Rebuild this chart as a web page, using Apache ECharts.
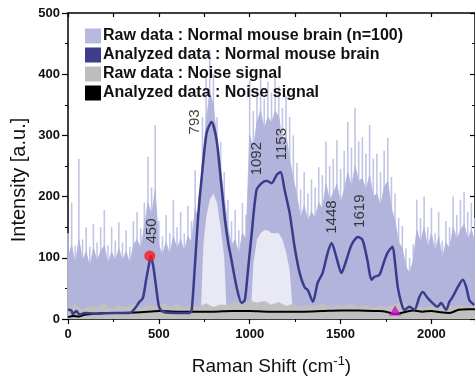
<!DOCTYPE html>
<html><head><meta charset="utf-8">
<script src="https://cdn.jsdelivr.net/npm/echarts@6/dist/echarts.min.js"></script>
<style>html,body{margin:0;padding:0;background:#fff}#c{width:475px;height:385px}</style>
</head><body><div id="c"></div>
<script>
// ---- data ----
const rawShift = [0,20,40,60,80,100,120,140,160,180,200,220,240,260,280,300,320,340,360,380,400,420,440,460,480,500,520,540,560,580,600,620,640,660,680,700,720,740,760,780,800,820,840,860,880,900,920,940,960,980,1000,1020,1040,1060,1080,1100,1120,1140,1160,1180,1200,1220,1240,1260,1280,1300,1320,1340,1360,1380,1400,1420,1440,1460,1480,1500,1520,1540,1560,1580,1600,1620,1640,1660,1680,1700,1720,1740,1760,1780,1800,1820,1840,1860,1880,1900,1920,1940,1960,1980,2000,2020,2040,2060,2080,2100,2120,2140,2160,2180,2200,2220,2240];
const rawPeakTop = [140,190,120,262,130,150,118,155,125,150,178,120,150,128,158,125,145,118,160,175,148,190,265,215,317,160,135,170,140,194,150,175,140,185,160,243,200,330,395,440,400,330,290,240,195,160,178,145,190,170,390,340,372,395,360,388,370,398,380,345,365,330,300,255,212,240,205,228,215,248,235,290,250,262,292,245,275,322,280,345,290,297,270,317,262,270,240,275,296,232,205,165,152,115,100,122,195,165,200,150,182,140,175,128,160,150,200,170,195,208,175,190,165];
const rawDense = [100,120,90,130,95,110,85,115,95,110,120,90,110,95,115,95,110,90,120,130,115,150,190,170,210,120,105,125,105,135,115,130,110,135,125,180,160,260,320,370,350,290,240,200,150,120,130,105,140,130,300,280,320,340,310,330,320,340,330,290,300,260,230,200,165,185,160,175,165,190,180,220,195,205,220,190,210,240,215,250,225,230,210,235,200,205,185,215,225,180,160,125,115,85,75,95,145,125,150,115,140,110,135,100,125,115,150,130,145,155,130,145,125];
const rawGapShift = [700,730,745,760,780,800,820,840,860,875,1005,1020,1040,1060,1080,1100,1120,1140,1160,1180,1200,1220,1240];
const rawGapLow   = [0,0,120,165,195,205,190,150,100,0,0,90,130,140,145,145,140,140,140,130,110,80,0];

const noiseShift = [0,40,80,120,160,200,240,280,320,360,400,440,480,520,560,600,640,680,720,760,800,840,880,920,960,1000,1040,1080,1120,1160,1200,1240,1280,1320,1360,1400,1440,1480,1520,1560,1600,1640,1680,1720,1760,1800,1840,1880,1920,1960,2000,2040,2080,2120,2160,2200,2240];
const noiseRaw   = [17,24,15,22,19,25,16,22,19,24,18,22,20,26,19,24,18,22,20,25,19,23,22,28,24,30,26,29,23,27,21,24,19,23,20,25,18,22,21,24,19,22,18,21,20,24,28,19,22,18,21,19,24,20,22,19,21];

const noiseAnalyzedShift = [0,30,60,90,130,200,300,400,500,600,700,800,900,1000,1100,1200,1300,1400,1500,1600,1700,1750,1800,1850,1900,1950,2000,2050,2100,2150,2200,2240];
const noiseAnalyzed      = [3,5,4,7,8,10,10,11,13,12,12,12,13,13,12,12,12,13,14,14,13,12,8,11,14,12,13,11,10,15,16,16];

const analyzedShift = [0,18,27,46,64,92,150,250,340,375,393,412,430,445,455,470,485,503,530,600,670,681,698,716,736,763,790,818,845,864,882,900,928,956,973,989,1011,1038,1066,1092,1120,1150,1170,1192,1220,1247,1275,1302,1320,1348,1374,1401,1429,1451,1477,1505,1532,1560,1596,1621,1648,1670,1687,1714,1742,1760,1786,1797,1815,1833,1851,1879,1907,1934,1952,1980,2007,2034,2053,2082,2099,2117,2145,2173,2192,2209,2236];
const analyzedIntensity = [15,14,8,13,7,10,9,10,10,20,28,34,64,88,103,85,52,18,11,10,10,15,85,167,232,304,322,292,216,162,124,96,52,26,31,75,140,211,222,226,222,236,240,211,173,118,75,52,47,28,59,75,108,124,101,75,96,121,134,129,96,64,69,72,96,109,118,100,52,28,15,20,15,36,44,34,26,20,26,15,28,36,52,64,52,31,23];

const peakLabels = ['450','793','1092','1153','1448','1619'];
const peakShift  = [450, 793, 1092, 1153, 1448, 1619];
const peakHeight = [103, 322, 226, 240, 124, 132];

const redMarker = [450, 103];
const triangleMarker = [1800, 14];

const xTicks = [0, 500, 1000, 1500, 2000];
const yTicks = [0, 100, 200, 300, 400, 500];

const legendNames = ['Raw data : Normal mouse brain (n=100)','Analyzed data : Normal mouse brain','Raw data : Noise signal','Analyzed data : Noise signal'];

// ---- build ----
const FF = '"Liberation Sans", Arial, sans-serif';
const pairs = (xs, ys) => xs.map((x, i) => [x, ys[i]]);
// screen offsets (dx, dy) of rotated peak labels relative to the peak point
const labelScreenOffsets = [[2,-25],[-17,0],[-10,-22],[4,-28],[1,-26],[-2,-27]];
// label offset is applied in the rotated text frame: [a,b] -> screen (b,-a)
const labelOffsets = labelScreenOffsets.map(([sx, sy]) => [-sy, sx]);

const C_RAW_SPIKE = '#c3c5e7', C_RAW = '#b2b4db', C_AN = '#3b3b8c', C_NOISE = '#c0c0c0', C_NOISE_AN = '#000';

const chart = echarts.init(document.getElementById('c'), null, {renderer: 'canvas'});
const axisLineStyle = {color: '#000', width: 1.5};
chart.setOption({
  animation: false,
  backgroundColor: '#fff',
  grid: {left: 68, top: 13, right: 0, bottom: 66, containLabel: false},
  legend: {
    orient: 'vertical', left: 80, top: 23, itemWidth: 16, itemHeight: 15, itemGap: 3,
    icon: 'rect', selectedMode: false,
    textStyle: {fontSize: 16, fontWeight: 'bold', color: '#111', fontFamily: FF, padding: [0, 0, 0, -3]},
    data: [
      {name: legendNames[0], itemStyle: {color: '#b7b9df'}},
      {name: legendNames[1], itemStyle: {color: '#3d3d8a'}},
      {name: legendNames[2], itemStyle: {color: '#bdbdbd'}},
      {name: legendNames[3], itemStyle: {color: '#000'}}
    ]
  },
  xAxis: [
    {type: 'value', min: xTicks[0], max: 2240, interval: xTicks[1] - xTicks[0], position: 'bottom',
     axisLine: {show: true, onZero: false, lineStyle: axisLineStyle},
     axisTick: {show: true, inside: false, length: 5, lineStyle: {color: '#000', width: 1.2}},
     minorTick: {show: true, splitNumber: 2, length: 3, lineStyle: {color: '#000', width: 1}},
     splitLine: {show: false}, minorSplitLine: {show: false},
     axisLabel: {showMaxLabel: false, margin: 9, fontSize: 13, fontWeight: 'bold', color: '#111', fontFamily: FF,
                 formatter: v => String(v)},
     name: '{t|Raman Shift (cm}{s|-1}{t|)}', nameLocation: 'middle', nameGap: 36,
     nameTextStyle: {rich: {
       t: {fontSize: 19, color: '#111', fontFamily: FF},
       s: {fontSize: 13, color: '#111', fontFamily: FF, verticalAlign: 'bottom', padding: [0, 0, 10, 0]}
     }}},
    {type: 'value', min: 0, max: 2240, interval: 250, position: 'top',
     axisLine: {show: true, onZero: false, lineStyle: axisLineStyle},
     axisTick: {show: true, inside: true, length: 4, lineStyle: {color: '#000', width: 1.2}},
     axisLabel: {show: false}, splitLine: {show: false}}
  ],
  yAxis: [
    {type: 'value', min: yTicks[0], max: yTicks[yTicks.length - 1], interval: yTicks[1] - yTicks[0], position: 'left',
     axisLine: {show: true, onZero: false, lineStyle: axisLineStyle},
     axisTick: {show: true, inside: false, length: 6, lineStyle: {color: '#000', width: 1.2}},
     minorTick: {show: true, splitNumber: 2, length: 3, lineStyle: {color: '#000', width: 1}},
     splitLine: {show: false},
     axisLabel: {margin: 8, fontSize: 13, fontWeight: 'bold', color: '#111', fontFamily: FF, formatter: v => String(v)}},
    {type: 'value', min: 0, max: 500, interval: 100, position: 'right',
     axisLine: {show: true, onZero: false, lineStyle: axisLineStyle},
     axisTick: {show: true, inside: true, length: 5, lineStyle: {color: '#000', width: 1.2}},
     minorTick: {show: true, splitNumber: 2, length: 3, lineStyle: {color: '#000', width: 1}},
     axisLabel: {show: false}, splitLine: {show: false}}
  ],
  graphic: [{
    type: 'text', x: 19, y: 180, rotation: Math.PI / 2,
    style: {text: 'Intensity [a.u.]', fontSize: 20, fontFamily: FF, fill: '#111', align: 'center', verticalAlign: 'middle'}
  }],
  series: [
    {name: legendNames[0], type: 'bar', barWidth: 1.6, data: pairs(rawShift, rawPeakTop),
     itemStyle: {color: C_RAW_SPIKE}, silent: true},
    {name: legendNames[0], type: 'line', data: pairs(rawShift, rawDense), showSymbol: false, symbol: 'none',
     lineStyle: {color: C_RAW, width: 0.8}, areaStyle: {color: C_RAW, opacity: 1}, silent: true},
    {name: 'gap', type: 'line', data: pairs(rawGapShift, rawGapLow), showSymbol: false, symbol: 'none',
     lineStyle: {width: 0}, areaStyle: {color: '#ffffff', opacity: 0.7}, silent: true},
    {name: legendNames[2], type: 'line', data: pairs(noiseShift, noiseRaw), showSymbol: false, symbol: 'none',
     lineStyle: {color: C_NOISE, width: 0.8}, areaStyle: {color: C_NOISE, opacity: 1}, silent: true},
    {name: legendNames[3], type: 'line', data: pairs(noiseAnalyzedShift, noiseAnalyzed), showSymbol: false, symbol: 'none',
     smooth: 0.3, lineStyle: {color: C_NOISE_AN, width: 2}},
    {name: legendNames[1], type: 'line', data: pairs(analyzedShift, analyzedIntensity), showSymbol: false, symbol: 'none',
     smooth: 0.25, lineStyle: {color: C_AN, width: 2.5}},
    {name: 'peak', type: 'scatter', data: [redMarker], symbol: 'circle', symbolSize: 11,
     itemStyle: {color: '#f41c1c'}, z: 5},
    {name: 'noiseMark', type: 'scatter', data: [triangleMarker], symbol: 'triangle', symbolSize: [12, 10],
     itemStyle: {color: '#cc10c8'}, z: 5},
    {name: 'peakLabels', type: 'scatter', symbolSize: 0, z: 6,
     data: peakShift.map((x, i) => ({value: [x, peakHeight[i]],
       label: {show: true, formatter: peakLabels[i], rotate: 90, position: 'inside', offset: labelOffsets[i],
               fontSize: 15, color: '#111', fontFamily: FF, align: 'center', verticalAlign: 'middle'}}))}
  ]
});
</script></body></html>
